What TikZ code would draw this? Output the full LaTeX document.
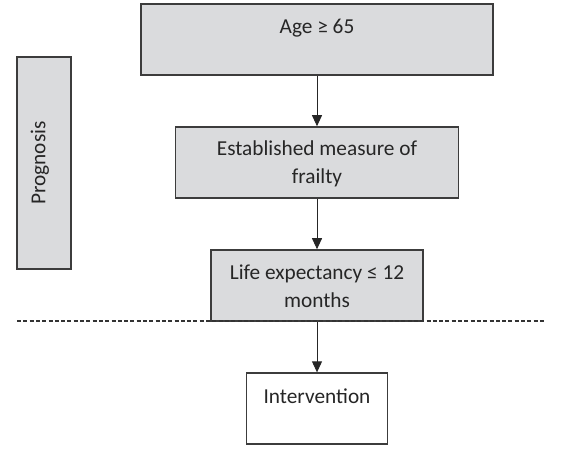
\documentclass[tikz,border=0pt]{standalone}
\usepackage{fontspec}
\setmainfont{Carlito}
\usetikzlibrary{arrows.meta}
\definecolor{boxfill}{RGB}{218,219,221}
\definecolor{boxline}{RGB}{60,60,60}
\begin{document}
\begin{tikzpicture}[x=1pt,y=-1pt,
  box/.style={draw=boxline,line width=1.6pt,fill=boxfill,inner sep=0pt},
  wbox/.style={draw=boxline,line width=1.3pt,fill=white,inner sep=0pt},
  txt/.style={font=\fontsize{21.3}{28}\selectfont,text=black!85,align=center,inner sep=0pt},
  conn/.style={draw=black!85,line width=0.9pt,-{Triangle[width=10pt,length=11pt]}},
  sep/.style={draw=black!80,line width=1.3pt,dash pattern=on 4pt off 2.3pt}]
\useasboundingbox (0,0) rectangle (562,465);
\node[box,minimum width=352,minimum height=71] (age) at (317,39.5) {};
\node[txt] (agetxt) at (317,28) {Age ≥ 65};
\node[box,minimum width=283,minimum height=71] (frail) at (317,162.5) {};
\node[txt] (frailtxt) at (317,163.5) {Established measure of\\frailty};
\node[box,minimum width=212,minimum height=71] (life) at (317,285.5) {};
\node[txt] (lifetxt) at (317,286.5) {Life expectancy ≤ 12\\months};
\node[wbox,minimum width=141,minimum height=71] (int) at (317,408.5) {};
\node[txt] (inttxt) at (317,396) {Intervention};
\node[box,minimum width=54,minimum height=212] (prog) at (44,163) {};
\node[txt,rotate=90] (progtxt) at (40,163) {Prognosis};
\coordinate (dl) at (17,321);
\coordinate (dr) at (544,321);
\draw[sep] (dl) -- (dr);
\draw[conn] (age.south) -- (frail.north);
\draw[conn] (frail.south) -- (life.north);
\draw[conn] (life.south) -- (int.north);
\end{tikzpicture}
\end{document}
